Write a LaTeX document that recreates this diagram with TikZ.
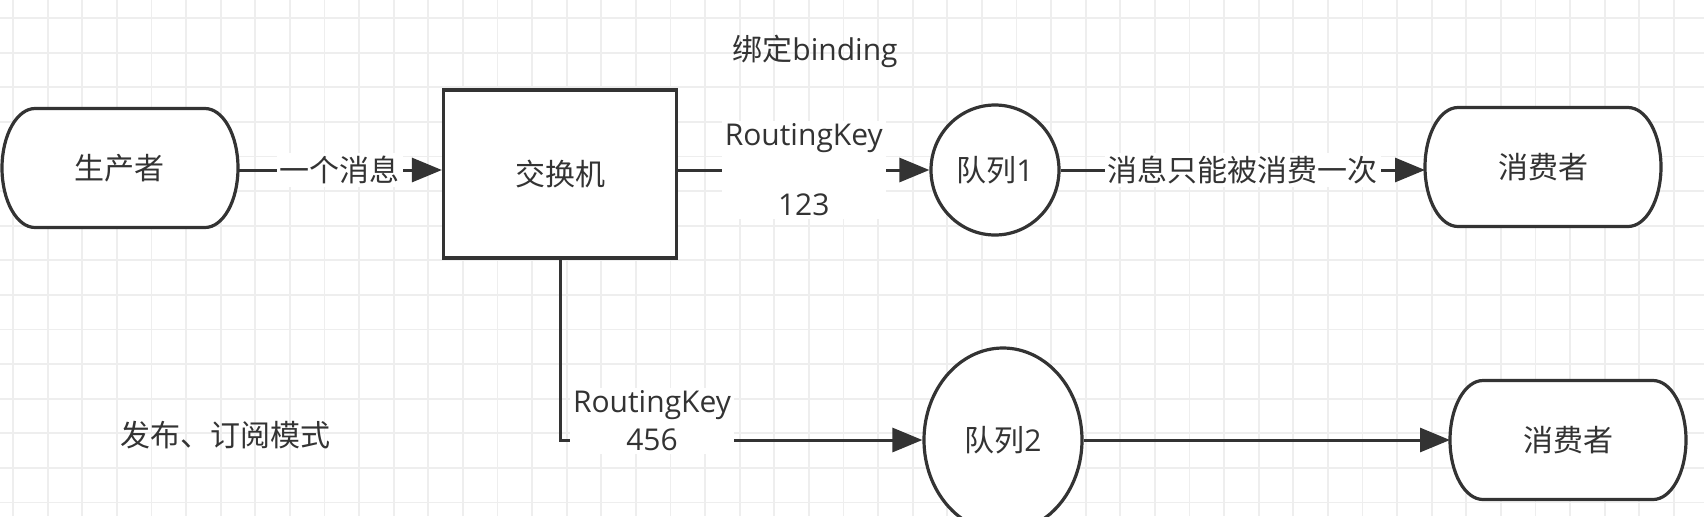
\documentclass[tikz,border=0pt]{standalone}
\usepackage{fontspec}
\setmainfont{Open Sans}
\newfontfamily\cjk{Noto Sans CJK SC}
\usetikzlibrary{shapes.geometric,arrows.meta,calc,backgrounds}
\definecolor{ink}{RGB}{51,51,51}
\definecolor{gridgray}{RGB}{238,238,238}
\tikzset{every picture/.style={line width=1.5pt}}
% outline of a terminator node: straight top and bottom, half ellipses at the sides
\newcommand{\terminator}[1]{%
  \path[draw=ink, fill=white, line width=1.6pt]
    ($(#1.north west)!0.14!(#1.north east)$) -- ($(#1.north east)!0.14!(#1.north west)$)
    .. controls ($(#1.north east)!0.063!(#1.north west)$) and ($(#1.east)!0.5523!(#1.north east)$) .. (#1.east)
    .. controls ($(#1.east)!0.5523!(#1.south east)$) and ($(#1.south east)!0.063!(#1.south west)$) .. ($(#1.south east)!0.14!(#1.south west)$)
    -- ($(#1.south west)!0.14!(#1.south east)$)
    .. controls ($(#1.south west)!0.063!(#1.south east)$) and ($(#1.west)!0.5523!(#1.south west)$) .. (#1.west)
    .. controls ($(#1.west)!0.5523!(#1.north west)$) and ($(#1.north west)!0.063!(#1.north east)$) .. cycle;}

\begin{document}
\begin{tikzpicture}[x=0.5pt,y=0.5pt,yscale=-1,xscale=1,
  font=\fontsize{15pt}{19pt}\selectfont,
  terminal/.style={text=ink, minimum width=116.5pt, minimum height=58pt},
  exbox/.style={draw=ink, fill=white, text=ink, line width=1.6pt, minimum width=116.5pt, minimum height=84pt},
  queue/.style={draw=ink, fill=white, text=ink, line width=1.6pt, ellipse, inner sep=0pt},
  flow/.style={draw=ink, -{Triangle[length=15pt,width=12pt]}},
  edgelbl/.style={fill=white, text=ink, inner sep=1.5pt},
  plain/.style={text=ink}]
\useasboundingbox (0,0) rectangle (1704,516);
\clip (0,0) rectangle (1704,516);

%Shapes
\node[terminal] (producer) at (120,168) {{\cjk 生产者}};
\node[exbox] (exchange) at (560,174) {{\cjk 交换机}};
\node[queue, minimum width=64pt, minimum height=65pt] (queue1) at (995,170) {{\cjk 队列}1};
\node[terminal] (consumer1) at (1543,167) {{\cjk 消费者}};
\node[queue, minimum width=79pt, minimum height=92pt] (queue2) at (1003,440) {{\cjk 队列}2};
\node[terminal] (consumer2) at (1568,440) {{\cjk 消费者}};

\begin{scope}[on background layer]
%Grid
\fill[white] (0,0) rectangle (1704,516);
\foreach \i in {0,...,48} \draw[gridgray, line width=0.9pt] (13+34.6*\i,0) -- (13+34.6*\i,516);
\foreach \j in {0,...,14} \draw[gridgray, line width=0.9pt] (0,18+34.6*\j) -- (1704,18+34.6*\j);
\terminator{producer}
\terminator{consumer1}
\terminator{consumer2}
\end{scope}

%Connectors
\draw[flow] (producer.east |- queue1.west) -- (queue1.west -| exchange.west) node[midway, edgelbl] {\cjk 一个消息};
\draw[flow] (queue1.west -| exchange.east) -- (queue1.west) node[midway, edgelbl, align=center] {RoutingKey\\[16pt]123};
\draw[flow] (queue1.east) -- (consumer1.west |- queue1.east) node[midway, edgelbl] {\cjk 消息只能被消费一次};
\draw[flow] (exchange.south) |- (queue2.west);
\draw[flow] (queue2.east) -- (consumer2.west);

% Text Node
\node[edgelbl, align=center] (key2) at (652,421) {RoutingKey\\456};
% Text Node
\node[plain] (binding) at (815,51) {{\cjk 绑定}binding};
% Text Node
\node[plain] (mode) at (225,435) {\cjk 发布、订阅模式};

\end{tikzpicture}
\end{document}
